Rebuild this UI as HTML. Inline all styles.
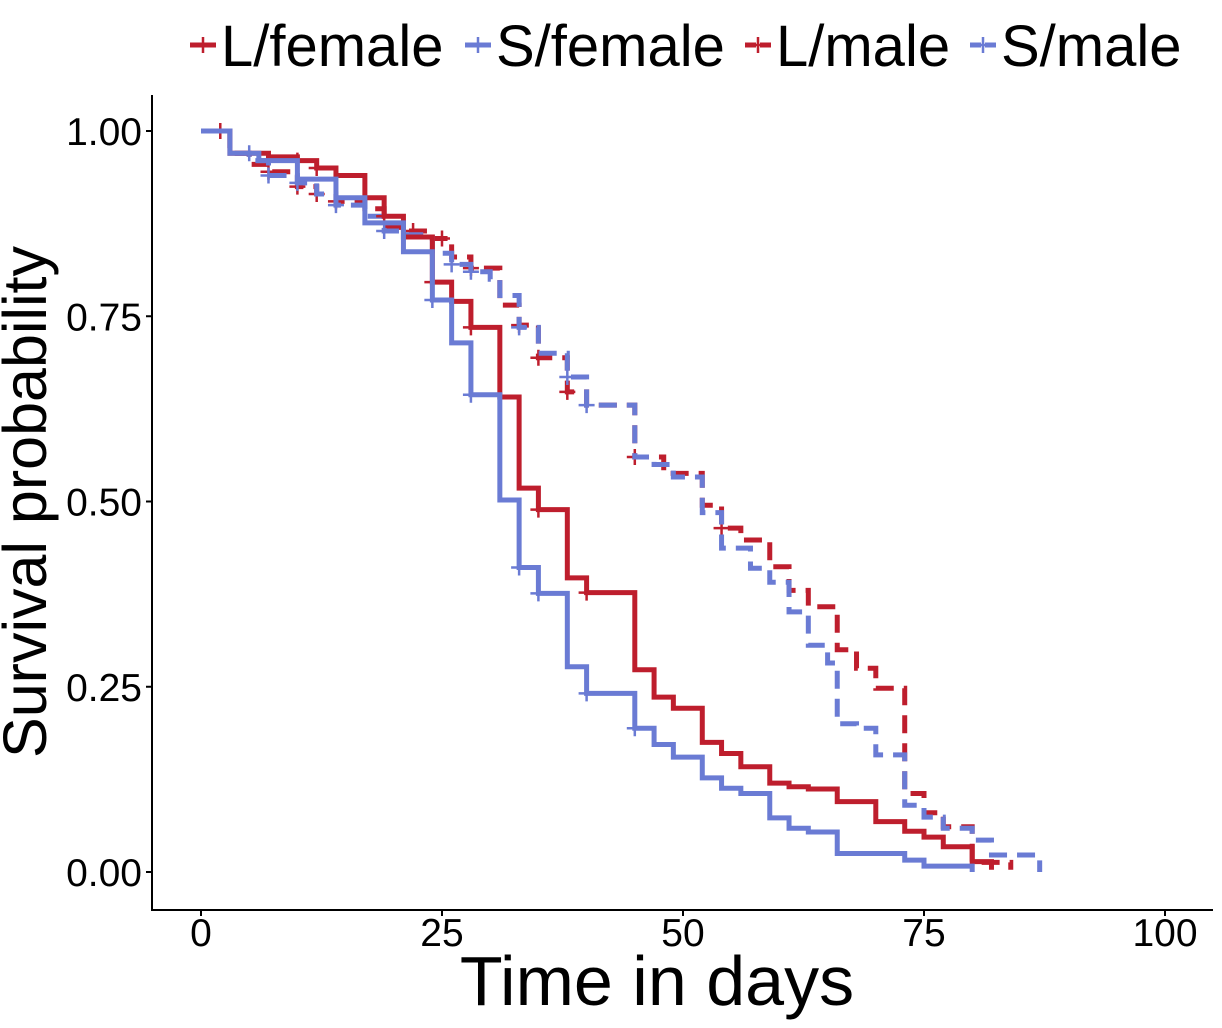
<!DOCTYPE html>
<html><head><meta charset="utf-8"><style>
body{margin:0;background:#fff}
svg{display:block;font-family:"Liberation Sans",sans-serif}
</style></head><body>
<svg id="chart" width="1222" height="1028" viewBox="0 0 1222 1028">
<g id="legend"></g>
<g id="axes"></g>
<g id="plot"></g>
</svg>
<script>
const xTicks=[0,25,50,75,100];
const yTicks=[0,0.25,0.5,0.75,1];
const yTickLabels=["0.00","0.25","0.50","0.75","1.00"];
const seriesNames=["L/female","S/female","L/male","S/male"];
const lfT=[0,3,7,10,12,14,17,19,21,24,26,28,31,33,35,38,40,45,47,49,52,54,56,59,61,63,66,70,73,75,77,80,82];
const lfS=[1,0.97,0.965,0.96,0.95,0.94,0.91,0.885,0.857,0.796,0.77,0.735,0.641,0.518,0.489,0.397,0.377,0.273,0.236,0.221,0.175,0.16,0.142,0.12,0.115,0.112,0.095,0.068,0.055,0.047,0.034,0.014,0.003];
const lfCens=[2,10,12,19,24,28,35,40];
const sfT=[0,3,6,10,14,17,21,24,26,28,31,33,35,38,40,45,47,49,52,54,56,59,61,63,66,73,75,80];
const sfS=[1,0.97,0.96,0.935,0.91,0.876,0.837,0.772,0.714,0.644,0.502,0.411,0.376,0.277,0.241,0.194,0.172,0.155,0.127,0.113,0.106,0.073,0.059,0.054,0.025,0.016,0.008,0];
const sfCens=[5,24,28,33,35,40,45];
const lmT=[0,3,5,7,10,12,14,17,19,21,24,26,28,31,33,35,38,40,45,48,52,54,56,59,61,63,66,68,70,73,75,77,80,84];
const lmS=[1,0.97,0.955,0.945,0.925,0.915,0.905,0.895,0.87,0.865,0.855,0.83,0.815,0.765,0.738,0.694,0.648,0.63,0.56,0.538,0.495,0.464,0.448,0.412,0.38,0.358,0.3,0.275,0.248,0.106,0.08,0.061,0.013,0.003];
const lmCens=[7,10,12,14,22,25,28,33,35,38,45,54];
const smT=[0,3,5,7,10,12,14,17,19,21,24,26,28,30,31,33,35,38,40,45,47,49,52,54,57,59,61,63,65,66,68,70,73,75,77,80,82,87];
const smS=[1,0.97,0.96,0.94,0.93,0.915,0.9,0.885,0.865,0.86,0.835,0.82,0.81,0.8,0.778,0.735,0.7,0.668,0.63,0.56,0.55,0.533,0.485,0.437,0.41,0.391,0.351,0.306,0.282,0.2,0.194,0.158,0.09,0.074,0.059,0.043,0.023,0];
const smCens=[7,10,14,19,26,28,33,38,40];

const RED="#be1e2d", BLUE="#6a7bd4";
const X=t=>201+9.64*t, Y=s=>872-741*s;
const NS="http://www.w3.org/2000/svg";
function mk(tag,parent,attrs){const e=document.createElementNS(NS,tag);for(const k in attrs)e.setAttribute(k,attrs[k]);parent.appendChild(e);return e;}
const axes=document.getElementById('axes'),plot=document.getElementById('plot'),legend=document.getElementById('legend');

let l=mk('line',axes,{x1:152,y1:95,x2:152,y2:910,stroke:'#000','stroke-width':2});

l=mk('line',axes,{x1:151,y1:910,x2:1213,y2:910,stroke:'#000','stroke-width':2});

yTicks.forEach((v,i)=>{
  const tk=mk('line',axes,{x1:146,x2:152,y1:Y(v),y2:Y(v),stroke:'#000','stroke-width':2});
  
  const t=mk('text',axes,{x:142,y:Y(v)+14,'text-anchor':'end','font-size':39});
  t.textContent=yTickLabels[i];
  
});
xTicks.forEach(v=>{
  const tk=mk('line',axes,{x1:X(v),x2:X(v),y1:910,y2:916,stroke:'#000','stroke-width':2});
  
  const t=mk('text',axes,{x:X(v),y:946,'text-anchor':'middle','font-size':39});
  t.textContent=String(v);
  
});
let tt=mk('text',axes,{x:657,y:1005,'text-anchor':'middle','font-size':70});tt.textContent='Time in days';

tt=mk('text',axes,{x:0,y:0,'text-anchor':'middle','font-size':61,transform:'translate(46,502) rotate(-90)'});tt.textContent='Survival probability';


function stepAt(T,S,t){let s=S[0];for(let i=0;i<T.length;i++){if(T[i]<=t)s=S[i];}return s;}
function drawSeries(T,S,C,color,dashed,name){
  const g=mk('g',plot,{});
  
  let d='M'+X(T[0])+','+Y(S[0]);
  for(let i=1;i<T.length;i++){d+=' H'+X(T[i])+' V'+Y(S[i]);}
  const p=mk('path',g,{d:d,fill:'none',stroke:color,'stroke-width':5,'stroke-dasharray':dashed?'18 10':'none'});
  
  C.forEach(t=>{
    const x=X(t),y=Y(stepAt(T,S,t));
    const m=mk('path',g,{d:`M${x-8},${y}H${x+8}M${x},${y-8}V${y+8}`,stroke:color,'stroke-width':2.5});
    
  });
}
drawSeries(lmT,lmS,lmCens,RED,true,'l-male');
drawSeries(smT,smS,smCens,BLUE,true,'s-male');
drawSeries(lfT,lfS,lfCens,RED,false,'l-female');
drawSeries(sfT,sfS,sfCens,BLUE,false,'s-female');

const legX=[190,465,745,970];const legCol=[RED,BLUE,RED,BLUE];const legDash=[false,false,true,true];
seriesNames.forEach((n,i)=>{
  const g=mk('g',legend,{});
  
  const x=legX[i];
  const ln=mk('line',g,{x1:x,x2:x+26,y1:45,y2:45,stroke:legCol[i],'stroke-width':5,'stroke-dasharray':legDash[i]?'11 4':'none'});
  
  const c=mk('path',g,{d:`M${x+5},45H${x+21}M${x+13},37V53`,stroke:legCol[i],'stroke-width':2.5});
  
  const t=mk('text',g,{x:x+31,y:66,'font-size':58});t.textContent=n;
  
});
</script>
</body></html>
